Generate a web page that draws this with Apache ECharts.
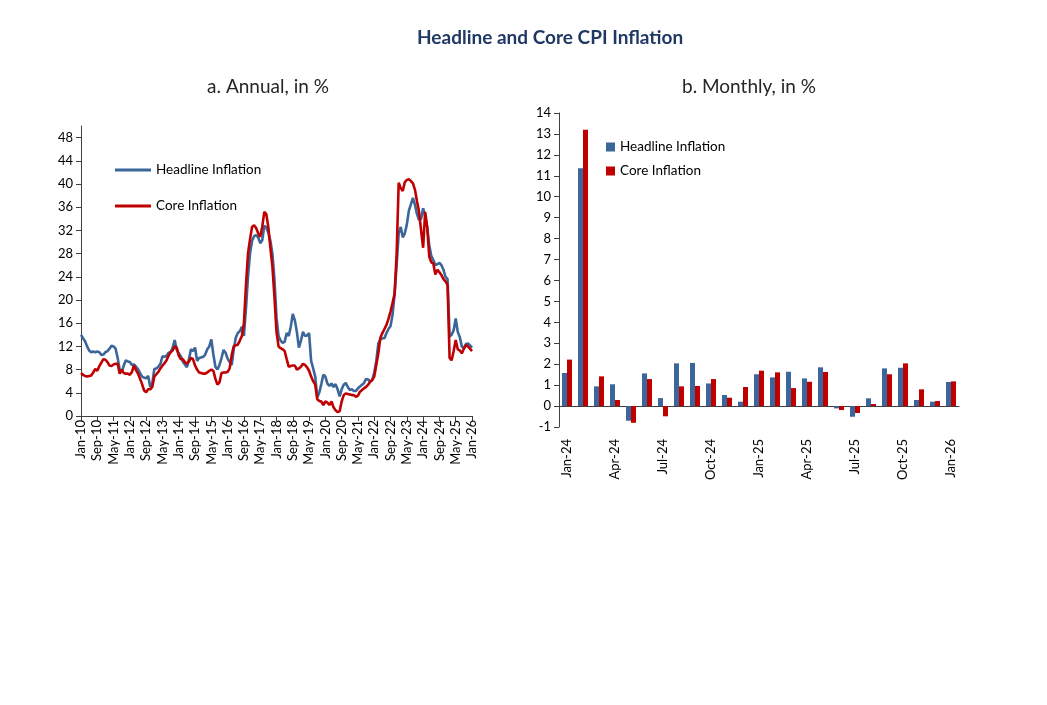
<!DOCTYPE html>
<html>
<head>
<meta charset="utf-8">
<script src="https://cdn.jsdelivr.net/npm/echarts@6/dist/echarts.min.js"></script>
<style>
html,body{margin:0;padding:0;background:#fff;}
#chart{width:1047px;height:705px;}
</style>
</head>
<body>
<div id="chart"></div>
<script>
// ---------- Panel a: annual inflation, monthly Jan-10 .. Jan-26 ----------
const annualStartYear = 2010;
const annualMonths = 193;
const monthNames = ['Jan','Feb','Mar','Apr','May','Jun','Jul','Aug','Sep','Oct','Nov','Dec'];
const annualCategories = [];
for (let i = 0; i < annualMonths; i++) {
  const y = annualStartYear + Math.floor(i / 12);
  annualCategories.push(monthNames[i % 12] + '-' + String(y % 100).padStart(2, '0'));
}
const annualHeadline = [
14.0,13.4,12.9,12.0,11.3,11.0,11.1,11.0,11.1,11.0,10.5,10.6,
11.0,11.2,11.6,12.1,12.0,11.6,10.0,8.0,7.6,8.7,9.6,9.4,
9.3,8.8,8.9,8.5,8.1,7.4,6.8,6.6,6.5,6.9,5.0,5.6,
8.1,8.2,8.5,9.0,10.3,10.2,10.4,10.9,11.0,11.8,13.1,11.4,
10.8,10.3,9.4,8.9,8.4,9.8,11.5,11.2,11.8,9.5,10.0,10.1,
10.2,10.6,11.5,12.0,13.2,10.6,8.5,8.0,8.8,10.0,11.4,10.9,
9.9,9.3,8.8,11.5,13.5,14.3,14.6,15.4,13.8,18.5,24.0,28.0,
30.2,31.0,31.2,30.8,29.8,30.3,32.8,32.5,31.6,30.2,28.0,23.5,
17.0,13.8,13.0,12.6,12.8,14.3,13.8,15.4,17.6,16.5,14.5,11.8,
13.0,14.5,13.8,13.9,14.3,9.5,8.2,6.8,3.2,4.0,5.5,7.1,
6.8,5.6,5.2,5.6,5.0,5.5,4.6,3.4,4.6,5.4,5.7,5.0,
4.5,4.6,4.3,4.3,4.8,5.1,5.4,5.7,6.4,6.3,5.9,6.2,
7.5,9.5,12.5,13.2,13.4,13.4,14.3,15.0,15.5,17.5,21.0,26.0,
31.5,32.6,30.8,31.5,33.0,35.4,36.5,37.6,36.4,34.8,33.8,34.0,
35.8,34.5,32.5,29.5,27.6,26.9,26.0,26.2,26.4,26.0,25.2,24.0,
23.6,13.7,14.0,14.8,16.8,14.5,13.6,12.0,11.7,12.4,12.5,12.2,
11.8
];
const annualCore = [
7.4,7.1,6.9,6.8,6.9,7.0,7.5,8.1,7.8,8.6,9.2,9.8,
9.7,9.3,8.7,8.6,8.9,9.0,9.0,7.3,8.0,7.4,7.3,7.3,
7.1,7.6,8.7,7.9,7.3,6.4,5.5,4.4,4.1,4.6,4.6,5.0,
6.8,7.2,7.6,8.2,8.7,9.1,9.6,10.4,11.0,11.3,12.0,11.8,
10.4,9.8,9.8,9.3,9.0,9.4,10.0,9.8,8.7,8.0,7.5,7.4,
7.3,7.3,7.5,7.8,8.0,7.8,6.4,5.4,5.8,7.4,7.5,7.5,
7.6,8.2,10.5,12.0,12.2,12.3,13.0,13.8,16.0,22.5,28.0,30.5,
32.6,32.9,32.4,31.5,30.9,32.6,35.2,34.8,32.5,29.0,25.7,20.5,
14.5,12.0,11.7,11.5,11.2,9.8,8.5,8.6,8.7,8.7,8.0,8.2,
8.5,9.0,8.8,8.4,7.8,6.8,6.0,5.4,2.9,2.6,2.5,1.9,
2.5,2.3,1.9,2.5,1.5,1.0,0.7,0.8,2.5,3.6,3.9,3.8,
3.7,3.6,3.6,3.3,3.5,4.2,4.5,4.8,5.0,5.4,5.9,6.2,
6.8,8.8,10.8,13.5,14.3,15.0,15.7,16.8,18.0,19.5,21.1,28.0,
40.2,39.3,38.8,40.3,40.7,40.8,40.5,40.1,39.0,37.0,35.2,32.0,
29.0,35.2,32.6,27.5,26.5,26.3,24.4,25.2,24.8,24.3,23.6,23.2,
22.6,10.0,9.6,11.2,13.1,11.5,11.3,10.8,11.6,12.2,12.0,11.6,
11.2
];

// ---------- Panel b: monthly inflation Jan-24 .. Jan-26 ----------
const monthlyCategories = [
'Jan-24','Feb-24','Mar-24','Apr-24','May-24','Jun-24','Jul-24','Aug-24','Sep-24','Oct-24','Nov-24','Dec-24',
'Jan-25','Feb-25','Mar-25','Apr-25','May-25','Jun-25','Jul-25','Aug-25','Sep-25','Oct-25','Nov-25','Dec-25',
'Jan-26'
];
const monthlyHeadline = [1.58,11.36,0.94,1.04,-0.70,1.56,0.38,2.04,2.06,1.08,0.53,0.21,
1.52,1.37,1.64,1.32,1.85,-0.11,-0.51,0.37,1.80,1.83,0.29,0.21,1.15];
const monthlyCore = [2.22,13.20,1.42,0.29,-0.80,1.29,-0.49,0.94,0.96,1.29,0.40,0.91,
1.69,1.61,0.86,1.16,1.63,-0.19,-0.33,0.10,1.52,2.04,0.80,0.24,1.18];

const BLUE = '#3B6699';
const RED = '#C00000';
const FONT = 'Lato, "Open Sans", sans-serif';
const AXIS = '#404040';

const chart = echarts.init(document.getElementById('chart'), null, {renderer: 'canvas'});
chart.setOption({
  animation: false,
  backgroundColor: '#fff',
  textStyle: {fontFamily: FONT},
  title: {
    text: 'Headline and Core CPI Inflation',
    left: 417,
    top: 28,
    padding: 0,
    textStyle: {fontSize: 19, fontWeight: 'bold', color: '#1F3864', fontFamily: FONT}
  },
  graphic: [
    {type: 'text', x: 268, y: 87, style: {text: 'a. Annual, in %', fontSize: 19, fill: '#262626', fontFamily: FONT, textAlign: 'center', textVerticalAlign: 'middle'}},
    {type: 'text', x: 749, y: 87, style: {text: 'b. Monthly, in %', fontSize: 19, fill: '#262626', fontFamily: FONT, textAlign: 'center', textVerticalAlign: 'middle'}}
  ],
  legend: [
    {
      orient: 'vertical', left: 115, top: 163, itemGap: 22, padding: 0,
      itemWidth: 36, itemHeight: 3,
      textStyle: {fontSize: 13.5, color: '#000', fontFamily: FONT},
      selectedMode: false,
      data: [
        {name: 'Headline Inflation', icon: 'rect', itemStyle: {color: BLUE}},
        {name: 'Core Inflation', icon: 'rect', itemStyle: {color: RED}}
      ]
    },
    {
      orient: 'vertical', left: 606, top: 140, itemGap: 10, padding: 0,
      itemWidth: 9, itemHeight: 9,
      textStyle: {fontSize: 13.5, color: '#000', fontFamily: FONT},
      selectedMode: false,
      data: [
        {name: 'Headline Inflation', icon: 'rect', itemStyle: {color: BLUE}},
        {name: 'Core Inflation', icon: 'rect', itemStyle: {color: RED}}
      ]
    }
  ],
  grid: [
    {left: 81, right: 575, top: 126, bottom: 289, containLabel: false},
    {left: 559, right: 88, top: 113, bottom: 278, containLabel: false}
  ],
  xAxis: [
    {
      gridIndex: 0, type: 'category', data: annualCategories, boundaryGap: false,
      axisLine: {lineStyle: {color: AXIS, width: 1}},
      axisTick: {interval: 7, length: 5, lineStyle: {color: AXIS}},
      axisLabel: {interval: 7, rotate: 90, fontSize: 13, color: '#000', margin: 4, fontFamily: FONT},
      splitLine: {show: false}
    },
    {
      gridIndex: 1, type: 'category', data: monthlyCategories, boundaryGap: true,
      axisLine: {onZero: true, lineStyle: {color: AXIS, width: 1}},
      axisTick: {interval: 2, length: 5, alignWithLabel: false, lineStyle: {color: AXIS}},
      axisLabel: {interval: 2, rotate: 90, fontSize: 13, color: '#000', margin: 12, fontFamily: FONT},
      splitLine: {show: false}
    }
  ],
  yAxis: [
    {
      gridIndex: 0, type: 'value', min: 0, max: 50, interval: 4,
      axisLine: {show: true, lineStyle: {color: AXIS, width: 1}},
      axisTick: {show: true, length: 5, lineStyle: {color: AXIS}},
      axisLabel: {fontSize: 13, color: '#000', margin: 8, showMaxLabel: false, fontFamily: FONT},
      splitLine: {show: false}
    },
    {
      gridIndex: 1, type: 'value', min: -1, max: 14, interval: 1,
      axisLine: {show: true, lineStyle: {color: AXIS, width: 1}},
      axisTick: {show: true, length: 5, lineStyle: {color: AXIS}},
      axisLabel: {fontSize: 13, color: '#000', margin: 8, fontFamily: FONT},
      splitLine: {show: false}
    }
  ],
  series: [
    {
      name: 'Headline Inflation', type: 'line', xAxisIndex: 0, yAxisIndex: 0,
      data: annualHeadline, symbol: 'none', lineStyle: {color: BLUE, width: 2.6},
      itemStyle: {color: BLUE}
    },
    {
      name: 'Core Inflation', type: 'line', xAxisIndex: 0, yAxisIndex: 0,
      data: annualCore, symbol: 'none', lineStyle: {color: RED, width: 2.6},
      itemStyle: {color: RED}
    },
    {
      name: 'Headline Inflation', type: 'bar', xAxisIndex: 1, yAxisIndex: 1,
      data: monthlyHeadline, barWidth: 5, barGap: '0%',
      itemStyle: {color: BLUE}
    },
    {
      name: 'Core Inflation', type: 'bar', xAxisIndex: 1, yAxisIndex: 1,
      data: monthlyCore, barWidth: 5, barGap: '0%',
      itemStyle: {color: RED}
    }
  ]
});
</script>
</body>
</html>
